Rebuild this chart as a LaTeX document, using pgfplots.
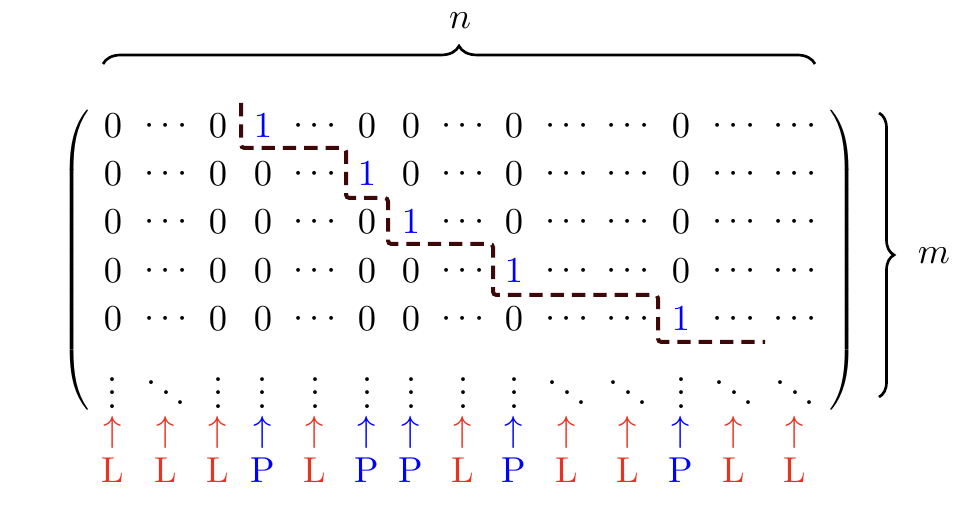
\documentclass[border=0pt]{standalone}
\usepackage{pgfplots}
\pgfplotsset{compat=1.18}
\usetikzlibrary{decorations.pathreplacing}
\definecolor{pblue}{RGB}{0,0,255}
\definecolor{lred}{RGB}{232,51,35}
\definecolor{stair}{RGB}{62,8,8}

\pgfplotsset{
  tm/.style={only marks, mark=text, text mark={#1}, text mark as node=true,
    text mark style={inner sep=0pt, anchor=center, font=\fontsize{10.8}{13}\selectfont}},
}

\begin{document}
\begin{tikzpicture}
\useasboundingbox (0,0) rectangle (292.2pt,154.2pt);
\begin{axis}[
  at={(0,0)}, anchor=south west,
  scale only axis, width=292.2pt, height=154.2pt,
  xmin=0, xmax=974, ymin=0, ymax=514, y dir=reverse,
  hide axis, clip=false,
]
% zeros
\addplot[tm={$0$}, color=black] coordinates {
  (113,126) (218,126) (367,126) (411,126) (514,126) (681,126)
  (113,174) (218,174) (263,174) (411,174) (514,174) (681,174)
  (113,222) (218,222) (263,222) (367,222) (514,222) (681,222)
  (113,271) (218,271) (263,271) (367,271) (411,271) (681,271)
  (113,319) (218,319) (263,319) (367,319) (411,319) (514,319)
};
% ones
\addplot[tm={$1$}, color=pblue] coordinates {
  (263,126) (367,174) (411,222) (514,271) (681,319)
};
% horizontal dots
\addplot[tm={$\cdots$}, color=black] coordinates {
  (166,126) (315,126) (463,126) (567,126) (628,126) (734,126) (795,126)
  (166,174) (315,174) (463,174) (567,174) (628,174) (734,174) (795,174)
  (166,222) (315,222) (463,222) (567,222) (628,222) (734,222) (795,222)
  (166,271) (315,271) (463,271) (567,271) (628,271) (734,271) (795,271)
  (166,319) (315,319) (463,319) (567,319) (628,319) (734,319) (795,319)
};
% last row
\addplot[tm={$\vdots$}, color=black] coordinates {
  (113,383) (218,383) (263,383) (315,383) (367,383) (411,383) (463,383) (514,383) (681,383)
};
\addplot[tm={$\ddots$}, color=black] coordinates {
  (166,383) (567,383) (628,383) (734,383) (795,383)
};
% arrows and labels
\addplot[tm={$\uparrow$}, color=lred] coordinates {
  (113,432) (166,432) (218,432) (315,432) (463,432) (567,432) (628,432) (734,432) (795,432)
};
\addplot[tm={$\uparrow$}, color=pblue] coordinates {
  (263,432) (367,432) (411,432) (514,432) (681,432)
};
\addplot[tm={L}, color=lred] coordinates {
  (113,470) (166,470) (218,470) (315,470) (463,470) (567,470) (628,470) (734,470) (795,470)
};
\addplot[tm={P}, color=pblue] coordinates {
  (263,470) (367,470) (411,470) (514,470) (681,470)
};
% staircase
\addplot[color=stair, line width=1.2pt, dash pattern=on 4pt off 2.4pt, rounded corners=1pt] coordinates {
  (241,103) (241,148) (346,148) (346,198) (388,198) (388,244)
  (493,244) (493,295) (658,295) (658,342) (765,342)
};
% parentheses
\addplot[tm={$\left(\vcenter{\hbox{\rule{0pt}{95pt}}}\right.$}, color=black] coordinates {(77,260)};
\addplot[tm={$\left.\vcenter{\hbox{\rule{0pt}{95pt}}}\right)$}, color=black] coordinates {(842,260)};
% braces
\addplot[black, line width=0.8pt, decorate, decoration={brace, amplitude=5.4pt}] coordinates {(103,64) (815,64)};
\addplot[black, line width=0.8pt, decorate, decoration={brace, amplitude=4.5pt}] coordinates {(879,113) (879,397)};
\addplot[tm={$n$}, color=black] coordinates {(460,21)};
\addplot[tm={$m$}, color=black] coordinates {(934,256)};
\end{axis}
\end{tikzpicture}
\end{document}
